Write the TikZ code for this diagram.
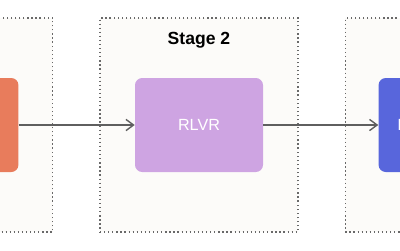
\documentclass[tikz,border=0pt]{standalone}
\usepackage{fontspec}
\setmainfont{Liberation Sans}
\usepackage{tikz}
\usetikzlibrary{positioning,arrows.meta}
\definecolor{pageback}{RGB}{252, 251, 249}
\definecolor{framegray}{RGB}{105, 105, 105}
\definecolor{arrowgray}{RGB}{95, 95, 95}
\definecolor{coral}{RGB}{232, 124, 92}
\definecolor{lilac}{RGB}{206, 164, 226}
\definecolor{indigo}{RGB}{88, 102, 220}

\tikzset{
  stageframe/.style = {
    draw          = framegray,
    dotted,
    line width    = 0.9pt,
    fill          = pageback,
    minimum width = 4.95cm,
    minimum height= 5.35cm
  },
  methodbox/.style = {
    draw           = none,
    rounded corners= 0.18cm,
    minimum width  = 3.2cm,
    minimum height = 2.35cm,
    text           = white,
    font           = \fontsize{11.5}{13}\selectfont
  },
  flow/.style = {
    draw       = arrowgray,
    line width = 1pt,
    -{Straight Barb[length=1.9mm,width=2.8mm]}
  }
}

\begin{document}
\begin{tikzpicture}
  \useasboundingbox (0,0) rectangle (10,6.25);
  \clip (0,0) rectangle (10,6.25);
  \fill[white] (0,0) rectangle (10,6.25);

  % stages
  \node[stageframe] (stagetwo)   at (4.975,3.125) {};
  \node[stageframe] (stageone)   [left=1.15cm of stagetwo] {};
  \node[stageframe] (stagethree) [right=1.15cm of stagetwo] {};
  \node[font=\fontsize{12.5}{15}\selectfont\bfseries] (stagetwotitle) at (4.975,5.25) {Stage 2};

  % methods
  \node[methodbox, fill=lilac]  (rlvr) at (4.975,3.125) {RLVR};
  \node[methodbox, fill=coral]  (prev) [left=2.9cm of rlvr] {};
  \node[methodbox, fill=indigo] (next) [right=2.875cm of rlvr] {};
  \node[text=white, font=\fontsize{11.5}{13}\selectfont, anchor=west, inner sep=0pt]
    (nexttext) at (9.925,3.125) {I};

  % flow
  \draw[flow] (prev) -- (rlvr);
  \draw[flow] (rlvr) -- (next);
\end{tikzpicture}
\end{document}
